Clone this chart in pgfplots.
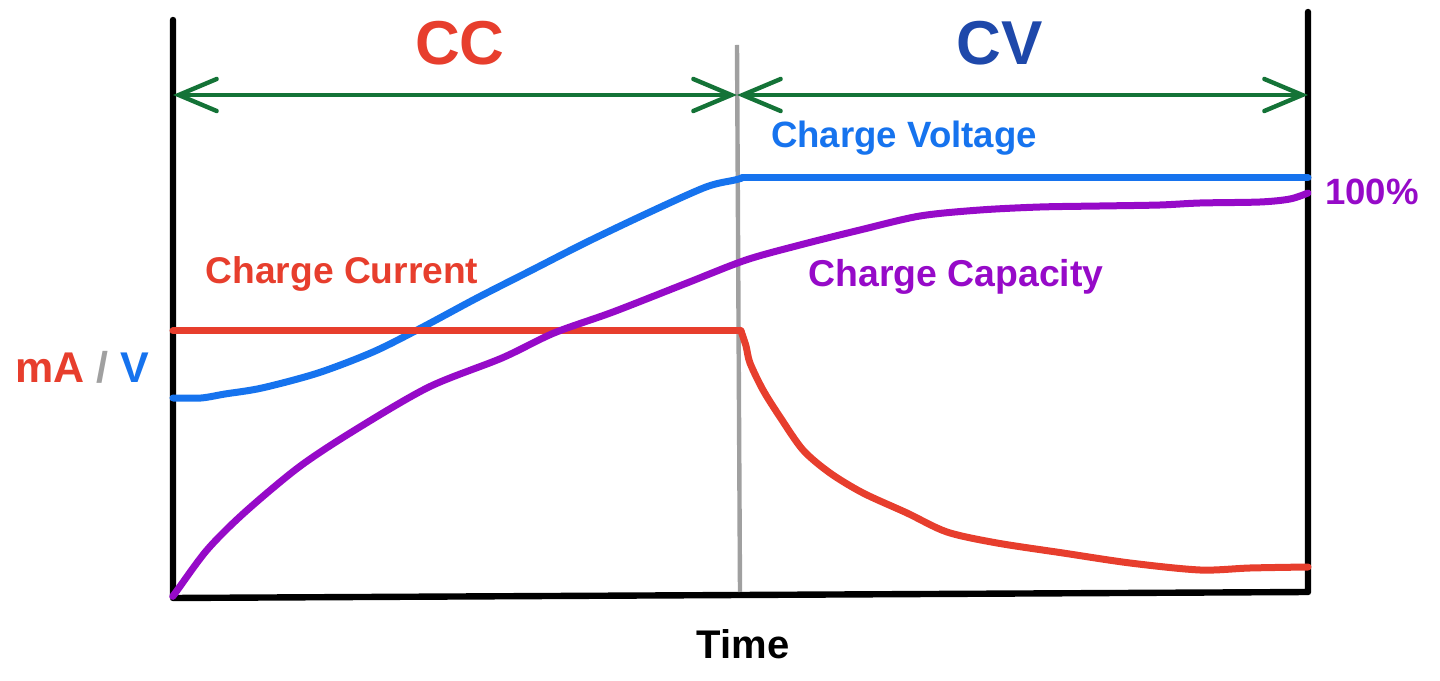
\documentclass[border=0pt]{standalone}
\usepackage{pgfplots}
\pgfplotsset{compat=1.18}
\usepackage{fontspec}
\setmainfont{Liberation Sans}
\usetikzlibrary{arrows.meta}

\definecolor{ccred}{RGB}{231,62,45}
\definecolor{cvblue}{RGB}{30,72,170}
\definecolor{vblue}{RGB}{22,115,238}
\definecolor{cappurple}{RGB}{150,10,200}
\definecolor{arrgreen}{RGB}{20,115,55}
\definecolor{divgray}{RGB}{160,160,160}

\begin{document}
\begin{tikzpicture}
\begin{axis}[
  width=567.5pt, height=289pt, scale only axis,
  xmin=0, xmax=1135, ymin=0, ymax=578,
  hide axis, clip=false,
  every axis plot/.append style={line cap=round, line join=round, line width=3.5pt},
]
% picture frame (full reference size)
\path (axis cs:-173,-82) rectangle (axis cs:1267,598);

% hand-drawn frame
\draw[line width=3.2pt, line cap=round, line join=round]
  (axis cs:0,578) -- (axis cs:0,0) -- (axis cs:1135,6) -- (axis cs:1135,586);
% CC / CV divider
\draw[divgray, line width=2.2pt] (axis cs:564,553) -- (axis cs:567,6);

% charge voltage
\addplot[vblue, smooth, tension=0.5] coordinates {
  (0,200) (28,200) (52,204) (89,210) (145,225) (200,246) (248,270)
  (304,300) (359,328) (414,356) (477,386) (533,411) (562,418) (569,420)};
\addplot[vblue] coordinates {(569,420) (1135,420)};

% charge current
\addplot[ccred] coordinates {(0,267) (568,267)};
\addplot[ccred, smooth, tension=0.5] coordinates {
  (568,267) (573,252) (577,235) (590,208) (607,181) (630,148) (657,125)
  (690,105) (734,85) (774,66) (824,55) (890,45) (957,35) (1027,28)
  (1077,30) (1135,31)};

% charge capacity
\addplot[cappurple, smooth, tension=0.5] coordinates {
  (0,2) (3,6) (34,48) (71,85) (126,131) (182,168) (256,211) (329,240)
  (381,265) (440,286) (514,315) (573,338) (627,353) (687,368) (747,382)
  (807,388) (867,391) (927,392) (987,393) (1027,395) (1087,396)
  (1117,399) (1135,405)};

% phase arrows
\draw[arrgreen, line width=2.2pt, line cap=round,
  {Straight Barb[length=19pt,width=16pt,line cap=round]}-{Straight Barb[length=19pt,width=16pt,line cap=round]}]
  (axis cs:0,503) -- (axis cs:564,503);
\draw[arrgreen, line width=2.2pt, line cap=round,
  {Straight Barb[length=19pt,width=16pt,line cap=round]}-{Straight Barb[length=19pt,width=16pt,line cap=round]}]
  (axis cs:564,503) -- (axis cs:1135,503);

% labels
\node[anchor=base, text=ccred, font=\bfseries\fontsize{31}{34}\selectfont] at (axis cs:287,533) {CC};
\node[anchor=base, text=cvblue, font=\bfseries\fontsize{31}{34}\selectfont] at (axis cs:827,533) {CV};
\node[anchor=base, text=vblue, font=\bfseries\fontsize{18.3}{21}\selectfont] at (axis cs:731,450) {Charge Voltage};
\node[anchor=base, text=ccred, font=\bfseries\fontsize{18.6}{21}\selectfont] at (axis cs:169,314) {Charge Current};
\node[anchor=base, text=cappurple, font=\bfseries\fontsize{18.7}{21}\selectfont] at (axis cs:783,311) {Charge Capacity};
\node[anchor=base, text=cappurple, font=\bfseries\fontsize{18.3}{21}\selectfont] at (axis cs:1199,393) {100\%};
\node[anchor=base, font=\bfseries\fontsize{21.5}{24}\selectfont] at (axis cs:-91,215)
  {\textcolor{ccred}{mA} \textcolor{divgray}{/} \textcolor{vblue}{V}};
\node[anchor=base, font=\bfseries\fontsize{20}{23}\selectfont] at (axis cs:570,-60) {Time};
\end{axis}
\end{tikzpicture}
\end{document}
